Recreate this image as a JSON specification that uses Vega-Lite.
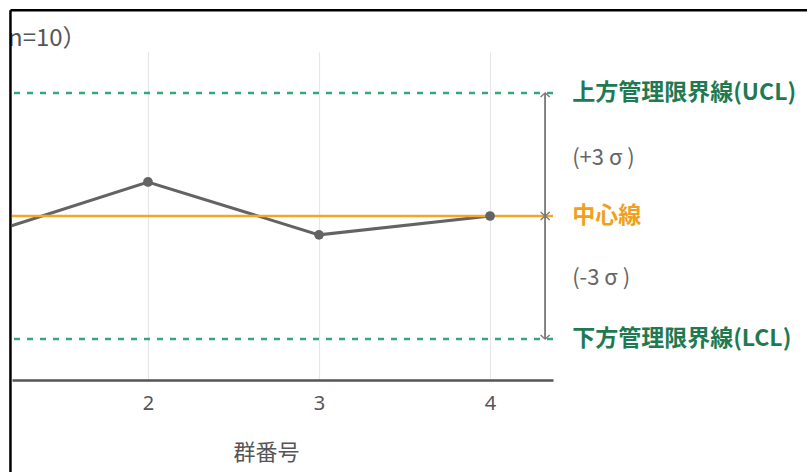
{
  "$schema": "https://vega.github.io/schema/vega-lite/v6.json",
  "width": 541,
  "height": 328,
  "autosize": {"type": "none"},
  "padding": {"left": 12, "top": 52, "right": 254, "bottom": 92},
  "background": "white",
  "config": {"view": {"stroke": null}, "font": "Noto Sans CJK JP"},
  "datasets": {
    "groups": [
      {"group": 1, "value": -0.51},
      {"group": 2, "value": 0.83},
      {"group": 3, "value": -0.46},
      {"group": 4, "value": 0.0}
    ],
    "limits": [
      {"name": "UCL", "v": 3},
      {"name": "LCL", "v": -3}
    ],
    "center": [{"name": "CL", "v": 0}],
    "arrowheads": [
      {"v": 3, "dir": "up"},
      {"v": 0, "dir": "up"},
      {"v": 0, "dir": "down"},
      {"v": -3, "dir": "down"}
    ],
    "boldLabels": [
      {"label": "上方管理限界線(UCL)", "v": 3, "kind": "limit"},
      {"label": "中心線", "v": 0, "kind": "center"},
      {"label": "下方管理限界線(LCL)", "v": -3, "kind": "limit"}
    ],
    "sigmaLabels": [
      {"label": "(+3 σ )", "v": 1.41},
      {"label": "(-3 σ )", "v": -1.51}
    ],
    "subtitle": [{"label": "n=10）", "v": 4.32}],
    "frame": [{"part": "border"}]
  },
  "layer": [
    {
      "data": {"name": "groups"},
      "mark": {"type": "line", "clip": true, "color": "#636363", "strokeWidth": 3},
      "encoding": {
        "x": {
          "field": "group", "type": "quantitative",
          "scale": {"domain": [1.205, 4.368], "nice": false, "zero": false},
          "axis": {
            "values": [2, 3, 4], "format": "d", "grid": true, "gridColor": "#e6e6e6", "gridWidth": 1.2,
            "domainColor": "#555555", "domainWidth": 2.5, "ticks": false,
            "labelFontSize": 20, "labelColor": "#555555", "labelPadding": 13, "labelFont": "Noto Sans",
            "title": "群番号", "titleFontSize": 22, "titleFontWeight": "normal", "titleColor": "#555555",
            "titleX": 254, "titleY": 72, "titleBaseline": "middle", "titleAlign": "center", "titleAnchor": null
          }
        },
        "y": {"field": "value", "type": "quantitative", "scale": {"domain": [-4, 4], "nice": false, "zero": false}, "axis": null}
      }
    },
    {
      "data": {"name": "limits"},
      "mark": {"type": "rule", "color": "#34a87a", "strokeWidth": 2.5, "strokeDash": [6, 7]},
      "encoding": {
        "y": {"field": "v", "type": "quantitative", "scale": {"domain": [-4, 4], "nice": false, "zero": false}, "axis": null}
      }
    },
    {
      "data": {"name": "center"},
      "mark": {"type": "rule", "color": "#f2a72a", "strokeWidth": 2.5},
      "encoding": {
        "y": {"field": "v", "type": "quantitative", "scale": {"domain": [-4, 4], "nice": false, "zero": false}, "axis": null}
      }
    },
    {
      "data": {"name": "groups"},
      "mark": {"type": "point", "clip": true, "filled": true, "color": "#636363", "size": 95, "opacity": 1},
      "encoding": {
        "x": {"field": "group", "type": "quantitative", "scale": {"domain": [1.205, 4.368], "nice": false, "zero": false}},
        "y": {"field": "value", "type": "quantitative", "scale": {"domain": [-4, 4], "nice": false, "zero": false}, "axis": null}
      }
    },
    {
      "data": {"name": "limits"},
      "mark": {"type": "rule", "color": "#7a7a7a", "strokeWidth": 1.5},
      "encoding": {
        "x": {"datum": 4.322, "type": "quantitative", "scale": {"domain": [1.205, 4.368], "nice": false, "zero": false}},
        "y": {"datum": 3, "type": "quantitative", "scale": {"domain": [-4, 4], "nice": false, "zero": false}, "axis": null},
        "y2": {"datum": -3}
      }
    },
    {
      "data": {"name": "arrowheads"},
      "mark": {"type": "point", "filled": false, "color": "#7a7a7a", "strokeWidth": 1.4, "size": 130, "opacity": 1},
      "encoding": {
        "x": {"datum": 4.322, "type": "quantitative", "scale": {"domain": [1.205, 4.368], "nice": false, "zero": false}},
        "y": {"field": "v", "type": "quantitative", "scale": {"domain": [-4, 4], "nice": false, "zero": false}, "axis": null},
        "shape": {
          "field": "dir", "type": "nominal",
          "scale": {"domain": ["up", "down"], "range": ["M-0.8,0.7L0,0L0.8,0.7", "M-0.8,-0.7L0,0L0.8,-0.7"]},
          "legend": null
        }
      }
    },
    {
      "data": {"name": "boldLabels"},
      "mark": {"type": "text", "align": "left", "baseline": "middle", "fontSize": 23, "fontWeight": "bold", "font": "Noto Sans CJK JP"},
      "encoding": {
        "x": {"datum": 4.48, "type": "quantitative", "scale": {"domain": [1.205, 4.368], "nice": false, "zero": false}},
        "y": {"field": "v", "type": "quantitative", "scale": {"domain": [-4, 4], "nice": false, "zero": false}, "axis": null},
        "text": {"field": "label"},
        "color": {"field": "kind", "type": "nominal", "scale": {"domain": ["limit", "center"], "range": ["#1f7a52", "#f0a020"]}, "legend": null}
      }
    },
    {
      "data": {"name": "sigmaLabels"},
      "mark": {"type": "text", "align": "left", "baseline": "middle", "fontSize": 22, "color": "#666666", "font": "Noto Sans CJK JP"},
      "encoding": {
        "x": {"datum": 4.48, "type": "quantitative", "scale": {"domain": [1.205, 4.368], "nice": false, "zero": false}},
        "y": {"field": "v", "type": "quantitative", "scale": {"domain": [-4, 4], "nice": false, "zero": false}, "axis": null},
        "text": {"field": "label"}
      }
    },
    {
      "data": {"name": "subtitle"},
      "mark": {"type": "text", "align": "left", "baseline": "middle", "fontSize": 24, "color": "#555555", "font": "Noto Sans CJK JP", "dx": -4},
      "encoding": {
        "x": {"datum": 1.205, "type": "quantitative", "scale": {"domain": [1.205, 4.368], "nice": false, "zero": false}},
        "y": {"field": "v", "type": "quantitative", "scale": {"domain": [-4, 4], "nice": false, "zero": false}, "axis": null},
        "text": {"field": "label"}
      }
    },
    {
      "data": {"name": "frame"},
      "mark": {"type": "rule", "color": "#000000", "strokeWidth": 2.5},
      "encoding": {
        "x": {"datum": 1.196, "type": "quantitative", "scale": {"domain": [1.205, 4.368], "nice": false, "zero": false}},
        "y": {"datum": 5.02, "type": "quantitative", "scale": {"domain": [-4, 4], "nice": false, "zero": false}, "axis": null},
        "y2": {"datum": -6.4}
      }
    },
    {
      "data": {"name": "frame"},
      "mark": {"type": "rule", "color": "#000000", "strokeWidth": 2.5},
      "encoding": {
        "x": {"datum": 1.196, "type": "quantitative", "scale": {"domain": [1.205, 4.368], "nice": false, "zero": false}},
        "x2": {"datum": 6.0},
        "y": {"datum": 5.02, "type": "quantitative", "scale": {"domain": [-4, 4], "nice": false, "zero": false}, "axis": null}
      }
    }
  ]
}
